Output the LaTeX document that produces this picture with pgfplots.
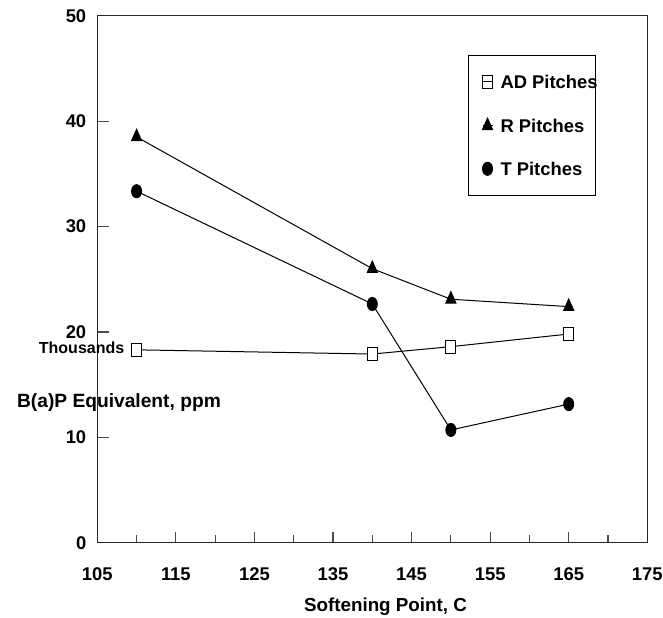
\documentclass[border=0pt]{standalone}
\usepackage{fontspec}
\setmainfont{Liberation Sans}
\usepackage{pgfplots}
\pgfplotsset{compat=1.18}

\begin{document}
\begin{tikzpicture}
\begin{axis}[
  name=ax,
  scale only axis,
  width=275pt, height=263.5pt,
  xmin=105, xmax=175, ymin=0, ymax=50,
  xtick={105,115,...,175},
  minor x tick num=1,
  ytick={0,10,...,50},
  tick pos=left,
  tick align=inside,
  major tick length=5.6pt,
  minor tick length=3.8pt,
  axis line style={black!85, line width=0.6pt},
  tick style={black!70, line width=0.6pt},
  /pgf/number format/assume math mode=true,
  tick label style={font=\fontsize{9.2}{11}\selectfont\bfseries},
  xticklabel style={yshift=-9pt},
  yticklabel style={xshift=-2pt},
  xlabel={Softening Point, C},
  ylabel={B(a)P Equivalent, ppm},
  every axis x label/.style={at={(rel axis cs:0.524,-0.1296)}, anchor=base,
    font=\fontsize{9.4}{11}\selectfont\bfseries},
  every axis y label/.style={at={(rel axis cs:-0.1587,0.2575)}, anchor=base west,
    font=\fontsize{9.6}{11}\selectfont\bfseries},
  clip=false,
  legend cell align=left,
  legend style={at={(0.6735,0.9255)}, anchor=north west, draw=black,
    line width=0.5pt, fill=white, inner xsep=0pt, inner ysep=9.9pt,
    row sep=14.9pt, column sep=0pt,
    nodes={inner sep=0pt, text depth=0pt, text height=6.6pt,
      font=\fontsize{9.2}{11}\selectfont\bfseries}},
  legend image code/.code={
    \path[draw=none, fill=none] (0pt,-3.3pt) rectangle (16.15pt,3.3pt);
    \draw[#1, only marks] plot coordinates {(9.65pt,0pt)};
    \draw[black, line width=0.5pt, fill=none] (7.15pt,0pt) -- (12.15pt,0pt);
  },
]
% AD pitches
\addplot[black, line width=0.5pt, mark=square*, mark size=2.5pt,
  mark options={fill=white, yscale=1.3}]
  coordinates {(110,18.3) (140,17.9) (150,18.6) (165,19.8)};
\addlegendentry{\makebox[47.65pt][l]{AD Pitches}}
% R pitches
\addplot[black, line width=0.5pt, mark=triangle*, mark size=2.9pt,
  mark options={fill=black, yscale=1.3}]
  coordinates {(110,38.5) (140,26.0) (150,23.1) (165,22.4)};
\addlegendentry{\makebox[47.65pt][l]{R Pitches}}
% T pitches
\addplot[black, line width=0.5pt, mark=*, mark size=2.5pt,
  mark options={fill=black, yscale=1.3}]
  coordinates {(110,33.35) (140,22.65) (150,10.7) (165,13.15)};
\addlegendentry{\makebox[47.65pt][l]{T Pitches}}

\node[anchor=base west, font=\fontsize{8}{10}\selectfont\bfseries]
  at (rel axis cs:-0.119,0.359) {Thousands};
\end{axis}
\pgfresetboundingbox
\useasboundingbox ([shift={(-48.65pt,-37.15pt)}]ax.south west)
  rectangle ([shift={(282.85pt,271.35pt)}]ax.south west);
\end{tikzpicture}
\end{document}
